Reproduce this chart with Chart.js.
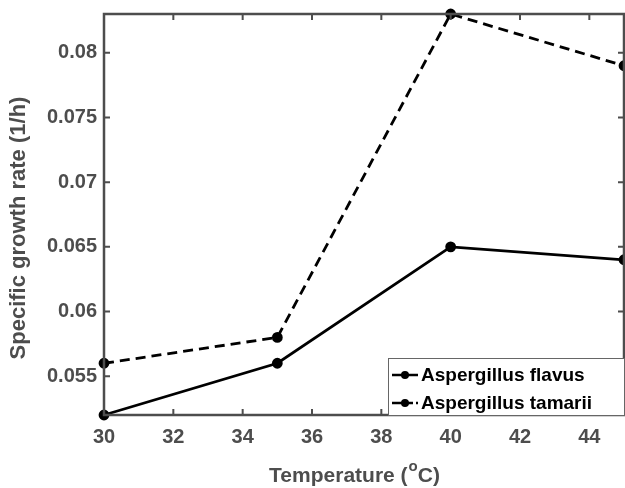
<!DOCTYPE html>
<html>
<head>
<meta charset="utf-8">
<script src="https://cdn.jsdelivr.net/npm/chart.js@4.4.1/dist/chart.umd.min.js"></script>
<style>
  html, body { margin: 0; padding: 0; background: #fff; }
  #wrap { width: 625px; height: 488px; }
</style>
</head>
<body>
<div id="wrap"><canvas id="growthChart" width="625" height="488"></canvas></div>
<script>
var temps = [30, 35, 40, 45];
var flavus = [0.052, 0.056, 0.065, 0.064];
var tamarii = [0.056, 0.058, 0.083, 0.079];
var seriesNames = ['Aspergillus flavus', 'Aspergillus tamarii'];
var xTicks = [30, 32, 34, 36, 38, 40, 42, 44];
var yTicks = [0.055, 0.06, 0.065, 0.07, 0.075, 0.08];

var axisGray = '#4d4d4d';
var tickFont = { family: 'Liberation Sans, Arial, sans-serif', size: 20, weight: 'bold' };

function points(ys) {
    return temps.map(function(t, i) { return { x: t, y: ys[i] }; });
}

// frame, inward ticks, axis titles and the boxed legend
var framePlugin = {
    id: 'frame',
    afterDatasetsDraw: function(chart) {
        var ctx = chart.ctx;
        var a = chart.chartArea;
        var xs = chart.scales.x, ys = chart.scales.y;
        ctx.save();
        ctx.strokeStyle = axisGray;
        ctx.lineWidth = 2.5;
        ctx.strokeRect(a.left, a.top, a.right - a.left, a.bottom - a.top);
        ctx.lineWidth = 2;
        ctx.beginPath();
        xTicks.forEach(function(v) {
            var px = xs.getPixelForValue(v);
            ctx.moveTo(px, a.bottom); ctx.lineTo(px, a.bottom - 6);
            ctx.moveTo(px, a.top); ctx.lineTo(px, a.top + 6);
        });
        yTicks.forEach(function(v) {
            var py = ys.getPixelForValue(v);
            ctx.moveTo(a.left, py); ctx.lineTo(a.left + 6, py);
            ctx.moveTo(a.right, py); ctx.lineTo(a.right - 6, py);
        });
        ctx.stroke();

        // legend box
        var lx = 388, ly = 358, lw = a.right - 388, lh = a.bottom - 358;
        ctx.fillStyle = '#ffffff';
        ctx.fillRect(lx, ly, lw, lh);
        ctx.strokeStyle = '#666666';
        ctx.lineWidth = 1;
        ctx.strokeRect(lx + 0.5, ly + 0.5, lw, lh);
        var rows = [375, 403];
        var dashes = [[], [13, 3, 5, 3]];
        ctx.font = 'bold 19px "Liberation Sans", Arial, sans-serif';
        ctx.textBaseline = 'middle';
        rows.forEach(function(ry, i) {
            ctx.strokeStyle = '#000';
            ctx.lineWidth = 2.5;
            ctx.setLineDash(dashes[i]);
            ctx.beginPath();
            ctx.moveTo(392, ry); ctx.lineTo(418, ry);
            ctx.stroke();
            ctx.setLineDash([]);
            ctx.fillStyle = '#000';
            ctx.beginPath();
            ctx.arc(405, ry, 4, 0, Math.PI * 2);
            ctx.fill();
            ctx.fillText(seriesNames[i], 421, ry + 1);
        });

        // axis titles
        ctx.fillStyle = axisGray;
        ctx.font = 'bold 22px "Liberation Sans", Arial, sans-serif';
        ctx.textBaseline = 'middle';
        ctx.save();
        ctx.translate(19, 228);
        ctx.rotate(-Math.PI / 2);
        ctx.textAlign = 'center';
        ctx.fillText('Specific growth rate (1/h)', 0, 0);
        ctx.restore();

        var p1 = 'Temperature (', sup = 'o', p2 = 'C)';
        var bigFont = 'bold 21px "Liberation Sans", Arial, sans-serif';
        var supFont = 'bold 15px "Liberation Sans", Arial, sans-serif';
        ctx.font = bigFont;
        var w1 = ctx.measureText(p1).width, w3 = ctx.measureText(p2).width;
        ctx.font = supFont;
        var w2 = ctx.measureText(sup).width;
        var tx = 354 - (w1 + w2 + w3) / 2, ty = 476;
        ctx.textAlign = 'left';
        ctx.font = bigFont;
        ctx.fillText(p1, tx, ty);
        ctx.font = supFont;
        ctx.fillText(sup, tx + w1 + 1, ty - 9);
        ctx.font = bigFont;
        ctx.fillText(p2, tx + w1 + w2 + 1, ty);
        ctx.restore();
    }
};

var ctx = document.getElementById('growthChart').getContext('2d');
var myChart = new Chart(ctx, {
    type: 'line',
    data: {
        datasets: [{
            label: seriesNames[0],
            data: points(flavus),
            borderColor: '#000',
            backgroundColor: '#000',
            borderWidth: 2.8,
            pointRadius: 4,
            pointBackgroundColor: '#000',
            tension: 0
        }, {
            label: seriesNames[1],
            data: points(tamarii),
            borderColor: '#000',
            backgroundColor: '#000',
            borderWidth: 2.8,
            borderDash: [10, 6],
            pointRadius: 4,
            pointBackgroundColor: '#000',
            tension: 0
        }]
    },
    options: {
        responsive: false,
        animation: false,
        clip: false,
        layout: { autoPadding: false, padding: { top: 14, right: 1, left: 0, bottom: 0 } },
        plugins: {
            legend: { display: false },
            tooltip: { enabled: false }
        },
        scales: {
            x: {
                type: 'linear',
                min: 30,
                max: 45,
                afterBuildTicks: function(scale) {
                    scale.ticks = xTicks.map(function(v) { return { value: v }; });
                },
                afterFit: function(scale) {
                    scale.height = 73;
                    scale.paddingLeft = 0;
                    scale.paddingRight = 0;
                },
                grid: { display: false, drawTicks: false },
                border: { display: false },
                ticks: {
                    color: axisGray,
                    font: tickFont,
                    padding: 10,
                    maxRotation: 0,
                    autoSkip: false
                }
            },
            y: {
                min: 0.052,
                max: 0.083,
                afterBuildTicks: function(scale) {
                    scale.ticks = yTicks.map(function(v) { return { value: v }; });
                },
                afterFit: function(scale) {
                    scale.width = 104;
                    scale.paddingTop = 0;
                    scale.paddingBottom = 0;
                },
                grid: { display: false, drawTicks: false },
                border: { display: false },
                ticks: {
                    color: axisGray,
                    font: tickFont,
                    padding: 7,
                    autoSkip: false,
                    callback: function(v) { return String(parseFloat(v.toFixed(3))); }
                }
            }
        }
    },
    plugins: [framePlugin]
});
</script>
</body>
</html>
